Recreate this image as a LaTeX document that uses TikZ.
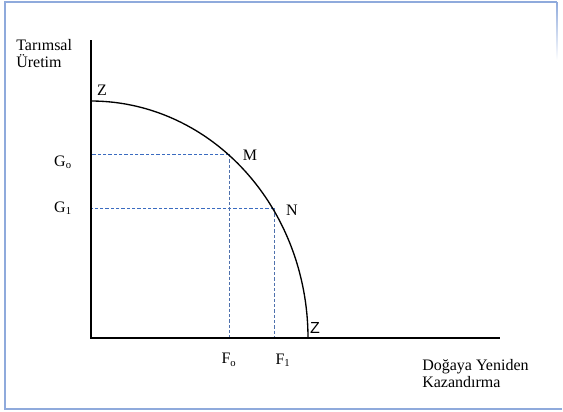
\documentclass[tikz,border=0pt]{standalone}
\usepackage{fontspec}
\setmainfont{Liberation Serif}
\newfontfamily\zsans{Liberation Sans}
\usetikzlibrary{positioning, calc}
\definecolor{framblue}{HTML}{8FAADC}
\definecolor{guideblue}{HTML}{3A6BC0}

\begin{document}
\begin{tikzpicture}[x=0.75pt, y=-0.75pt,
    lbl/.style={font=\fontsize{12}{12.8}\selectfont, inner sep=0pt},
    axisline/.style={black, line width=1.2pt},
    guide/.style={guideblue, line width=0.75pt, dash pattern=on 2.5pt off 1.5pt}]
        \useasboundingbox (0,0) rectangle (563,411);
        \draw[framblue, line width=1.5pt] (557,2) -- (5,2) -- (5,409) -- (562,409);
        \shade[top color=framblue, bottom color=white] (556.2,2) rectangle (557.8,60);
        \coordinate (O) at (91,338);
        \coordinate (ytop) at (91,40);
        \coordinate (xend) at (500,338);
        \coordinate (M) at (229,154);
        \coordinate (N) at (274,208);
        \draw[guide] (M) -- (M -| O);
        \draw[guide] (N) -- (N -| O);
        \draw[guide, guideblue!70!gray] (M) -- (M |- O);
        \draw[guide, guideblue!70!gray] (N) -- (N |- O);
        \draw[black, line width=1pt] plot[domain=90:0, samples=60, smooth]
          ({91+217*cos(\x)}, {338-237*sin(\x)});
        \draw[axisline] (ytop) -- (O) -- (xend);
        \node[lbl, anchor=base west] (tar) at (16,50) {Tarımsal};
        \node[lbl, anchor=base west] (ure) at (16,67) {Üretim};
        \node[lbl] (ztop) at (102,90) {Z};
        \node[lbl] (gzero) at (63,162) {G\textsubscript{o}};
        \node[lbl] (gone) at (63,208) {G\textsubscript{1}};
        \node[lbl] (mlbl) at (250,155) {M};
        \node[lbl] (nlbl) at (292,210) {N};
        \node[lbl, font=\zsans\fontsize{12}{12.8}\selectfont] (zbot) at (315,328) {Z};
        \node[lbl] (fzero) at (229,360) {F\textsubscript{o}};
        \node[lbl] (fone) at (283,360) {F\textsubscript{1}};
        \node[lbl, anchor=base west] (dog) at (422,370) {Doğaya Yeniden};
        \node[lbl, anchor=base west] (kaz) at (422,387) {Kazandırma};
      \end{tikzpicture}
\end{document}
